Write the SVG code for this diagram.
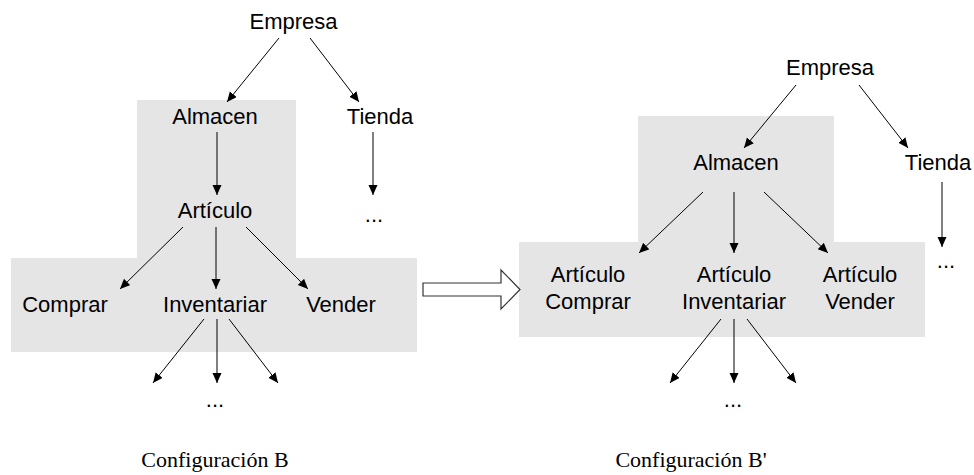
<svg xmlns="http://www.w3.org/2000/svg" width="974" height="475" viewBox="0 0 974 475">
  <style>
    .lbl { font-family: "Liberation Sans", Arial, sans-serif; font-size: 22px; fill: #000; text-anchor: middle; }
    .cap { font-family: "Liberation Serif", "Times New Roman", serif; font-size: 22px; fill: #000; text-anchor: middle; }
    .edge { stroke: #000; stroke-width: 1; fill: none; marker-end: url(#head); }
    .zone { fill: #e5e5e5; }
  </style>
  <defs>
    <marker id="head" markerUnits="userSpaceOnUse" markerWidth="12" markerHeight="10" refX="10" refY="4.5" orient="auto">
      <path d="M0,0 L10,4.5 L0,9 Z" fill="#000"/>
    </marker>
  </defs>
  <rect width="974" height="475" fill="#fff"/>

  <!-- shaded groupings -->
  <path class="zone" d="M137,100 H296 V258 H417 V352 H11 V258 H137 Z"/>
  <path class="zone" d="M638,116 H834 V242 H925 V337 H519 V242 H638 Z"/>

  <!-- connectors -->
  <g id="connectors">
    <line class="edge" x1="279" y1="38" x2="227" y2="102"/>
    <line class="edge" x1="310" y1="38" x2="359" y2="102"/>
    <line class="edge" x1="217" y1="132" x2="217" y2="195"/>
    <line class="edge" x1="373" y1="132" x2="373" y2="195"/>
    <line class="edge" x1="183" y1="227" x2="120" y2="289"/>
    <line class="edge" x1="216" y1="227" x2="216" y2="289"/>
    <line class="edge" x1="246" y1="227" x2="308" y2="289"/>
    <line class="edge" x1="204" y1="319" x2="153" y2="383"/>
    <line class="edge" x1="217" y1="319" x2="217" y2="383"/>
    <line class="edge" x1="229" y1="319" x2="278" y2="383"/>

    <line class="edge" x1="796" y1="85" x2="744" y2="148"/>
    <line class="edge" x1="859" y1="85" x2="908" y2="148"/>
    <line class="edge" x1="942" y1="182" x2="942" y2="247"/>
    <line class="edge" x1="703" y1="192" x2="639" y2="253"/>
    <line class="edge" x1="734" y1="192" x2="734" y2="253"/>
    <line class="edge" x1="764" y1="192" x2="828" y2="253"/>
    <line class="edge" x1="721" y1="319" x2="670" y2="383"/>
    <line class="edge" x1="734" y1="319" x2="734" y2="383"/>
    <line class="edge" x1="747" y1="319" x2="796" y2="383"/>
  </g>

  <!-- transformation arrow -->
  <polygon points="423,283 501,283 501,270 520,289.5 501,309 501,296 423,296" fill="#fff" stroke="#333" stroke-width="1.2"/>

  <!-- Configuración B -->
  <g id="b-empresa"><text class="lbl" x="293.5" y="29">Empresa</text></g>
  <g id="b-almacen"><text class="lbl" x="215" y="124">Almacen</text></g>
  <g id="b-tienda"><text class="lbl" x="380" y="124">Tienda</text></g>
  <g id="b-tienda-more"><text class="lbl" x="374" y="222">...</text></g>
  <g id="b-articulo"><text class="lbl" x="215" y="218">Artículo</text></g>
  <g id="b-comprar"><text class="lbl" x="65" y="312">Comprar</text></g>
  <g id="b-inventariar"><text class="lbl" x="215" y="312">Inventariar</text></g>
  <g id="b-vender"><text class="lbl" x="341" y="312">Vender</text></g>
  <g id="b-inv-more"><text class="lbl" x="215" y="407">...</text></g>
  <text class="cap" x="215" y="467">Configuración B</text>

  <!-- Configuración B' -->
  <g id="bp-empresa"><text class="lbl" x="830" y="75">Empresa</text></g>
  <g id="bp-almacen"><text class="lbl" x="736" y="170">Almacen</text></g>
  <g id="bp-tienda"><text class="lbl" x="938" y="170">Tienda</text></g>
  <g id="bp-tienda-more"><text class="lbl" x="946" y="268">...</text></g>
  <g id="bp-art-comprar"><text class="lbl" x="588" y="282">Artículo<tspan x="588" y="309">Comprar</tspan></text></g>
  <g id="bp-art-inventariar"><text class="lbl" x="734" y="282">Artículo<tspan x="734" y="309">Inventariar</tspan></text></g>
  <g id="bp-art-vender"><text class="lbl" x="860" y="282">Artículo<tspan x="860" y="309">Vender</tspan></text></g>
  <g id="bp-inv-more"><text class="lbl" x="733" y="407">...</text></g>
  <text class="cap" x="691" y="467">Configuración B'</text>
</svg>
